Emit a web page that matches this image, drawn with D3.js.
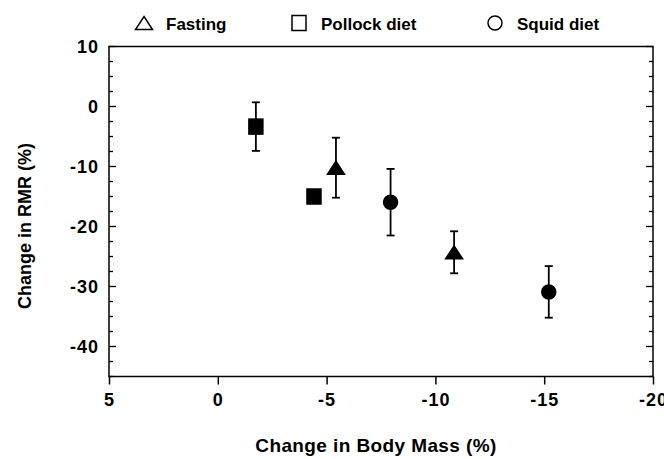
<!DOCTYPE html>
<html>
<head>
<meta charset="utf-8">
<script src="https://cdn.jsdelivr.net/npm/d3@7"></script>
<style>
  body { margin: 0; background: #fff; }
  svg text { font-family: "Liberation Sans", Arial, sans-serif; font-weight: bold; fill: #000; }
</style>
</head>
<body>
<div id="chart"></div>
<script>
// data
const groups = ["Fasting", "Pollock diet", "Squid diet"];
const massChange = {
  "Fasting": [-5.43, -10.86],
  "Pollock diet": [-1.75, -4.42],
  "Squid diet": [-7.94, -15.21]
};
const rmrChange = {
  "Fasting": [-10.2, -24.3],
  "Pollock diet": [-3.35, -15.0],
  "Squid diet": [-15.95, -30.9]
};
const rmrError = {
  "Fasting": [5.0, 3.5],
  "Pollock diet": [4.05, 1.0],
  "Squid diet": [5.55, 4.3]
};
const xTicks = [5, 0, -5, -10, -15, -20];
const yTicks = [10, 0, -10, -20, -30, -40];

const width = 664, height = 459;
const margin = { top: 46.5, right: 11, bottom: 82.5, left: 109 };

const svg = d3.select("#chart")
  .append("svg")
  .attr("width", width)
  .attr("height", height);

const x = d3.scaleLinear().domain([5, -20]).range([margin.left, width - margin.right]);
const y = d3.scaleLinear().domain([-45, 10]).range([height - margin.bottom, margin.top]);

// frame
svg.append("rect")
  .attr("x", x(5)).attr("y", y(10))
  .attr("width", x(-20) - x(5)).attr("height", y(-45) - y(10))
  .attr("fill", "none").attr("stroke", "#000").attr("stroke-width", 1.5);

// y ticks, inward on both sides (minor every 2.5)
const minorY = d3.range(-45, 10.01, 2.5);
minorY.forEach(v => {
  const len = v % 10 === 0 ? 7 : 4;
  svg.append("line")
    .attr("x1", x(5)).attr("x2", x(5) + len)
    .attr("y1", y(v)).attr("y2", y(v))
    .attr("stroke", "#000").attr("stroke-width", 1.3);
  svg.append("line")
    .attr("x1", x(-20)).attr("x2", x(-20) - len)
    .attr("y1", y(v)).attr("y2", y(v))
    .attr("stroke", "#000").attr("stroke-width", 1.3);
});

svg.selectAll(".ylab")
  .data(yTicks)
  .enter().append("text")
  .attr("x", x(5) - 10)
  .attr("y", d => y(d))
  .attr("dy", "0.36em")
  .attr("text-anchor", "end")
  .style("font-size", "18px")
  .style("letter-spacing", "1px")
  .text(d => String(d));

// x ticks, outward
const xAxis = d3.axisBottom(x).tickValues(xTicks).tickSize(8).tickPadding(9)
  .tickFormat(d => String(d));
const gx = svg.append("g")
  .attr("transform", `translate(0, ${y(-45)})`)
  .call(xAxis);
gx.select(".domain").remove();
gx.selectAll(".tick line").attr("stroke", "#000").attr("stroke-width", 1.5);
gx.selectAll(".tick text")
  .style("font-size", "18px")
  .style("letter-spacing", "1px")
  .style("font-family", "Liberation Sans, Arial, sans-serif")
  .style("font-weight", "bold")
  .attr("fill", "#000");

// axis titles
svg.append("text")
  .attr("x", 376)
  .attr("y", 452)
  .attr("text-anchor", "middle")
  .style("font-size", "19px")
  .style("letter-spacing", "0.4px")
  .text("Change in Body Mass (%)");

svg.append("text")
  .attr("transform", `translate(31, 226) rotate(-90)`)
  .attr("text-anchor", "middle")
  .style("font-size", "18px")
  .text("Change in RMR (%)");

// marker shapes
function marker(g, kind, filled) {
  const fill = filled ? "#000" : "#fff";
  if (kind === "Fasting") {
    g.append("path").attr("d", "M0,-6.5 L8.5,6.5 L-8.5,6.5 Z")
      .attr("fill", fill).attr("stroke", "#000").attr("stroke-width", 1.5);
  } else if (kind === "Pollock diet") {
    g.append("rect").attr("x", -7).attr("y", -7.5).attr("width", 14).attr("height", 15)
      .attr("fill", fill).attr("stroke", "#000").attr("stroke-width", 1.5);
  } else {
    g.append("circle").attr("r", 7)
      .attr("fill", fill).attr("stroke", "#000").attr("stroke-width", 1.5);
  }
}

// points with error bars
groups.forEach(gName => {
  massChange[gName].forEach((mx, i) => {
    const ry = rmrChange[gName][i];
    const err = rmrError[gName][i];
    const cx = x(mx);
    svg.append("line")
      .attr("x1", cx).attr("x2", cx)
      .attr("y1", y(ry + err)).attr("y2", y(ry - err))
      .attr("stroke", "#000").attr("stroke-width", 1.8);
    [ry + err, ry - err].forEach(v => {
      svg.append("line")
        .attr("x1", cx - 4).attr("x2", cx + 4)
        .attr("y1", y(v)).attr("y2", y(v))
        .attr("stroke", "#000").attr("stroke-width", 1.8);
    });
    const g = svg.append("g").attr("transform", `translate(${cx}, ${y(ry)})`);
    marker(g, gName, true);
  });
});

// legend
const legendX = [144, 299, 495];
groups.forEach((gName, i) => {
  const g = svg.append("g").attr("transform", `translate(${legendX[i]}, 23)`);
  marker(g, gName, false);
  svg.append("text")
    .attr("x", legendX[i] + 22)
    .attr("y", 29.5)
    .style("font-size", "17px")
    .text(gName);
});
</script>
</body>
</html>
